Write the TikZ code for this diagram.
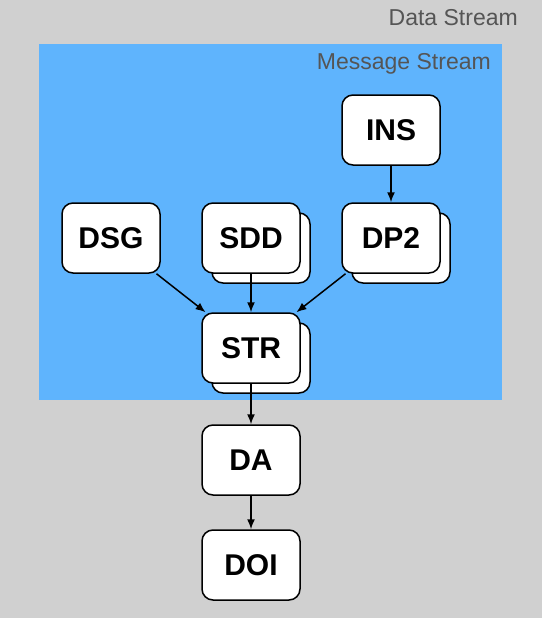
\documentclass[tikz,border=0pt]{standalone}
\usepackage{fontspec}
\setmainfont{Liberation Sans}
\usetikzlibrary{arrows.meta,shadows}
\definecolor{streamgray}{HTML}{D0D0D0}
\definecolor{streamblue}{HTML}{5FB4FD}
\definecolor{labelgray}{HTML}{555555}
\tikzset{
  box/.style={draw, fill=white, rounded corners=11pt, line width=1.5pt,
    minimum width=98pt, minimum height=70pt, inner sep=0pt,
    font=\fontsize{30}{36}\selectfont\bfseries},
  stack/.style={copy shadow={shadow xshift=10pt, shadow yshift=-10pt,
    draw=black, fill=white, line width=1.5pt}},
  link/.style={line width=1.5pt, -{Latex[length=10pt,width=8pt]}},
  streamlabel/.style={anchor=base east, inner sep=0pt, text=labelgray,
    font=\fontsize{23}{28}\selectfont}
}
\begin{document}
\begin{tikzpicture}[x=1pt,y=-1pt]
\useasboundingbox (0,0) rectangle (542,618);
\fill[streamgray] (0,0) rectangle (542,618);
\fill[streamblue] (39,44) rectangle (502,400);

\node[streamlabel] (datastream) at (518,26) {Data Stream};
\node[streamlabel] (msgstream) at (491,70) {Message Stream};

\node[box] (INS) at (391,130) {INS};
\node[box] (DSG) at (111,238) {DSG};
\node[box, stack] (SDD) at (251,238) {SDD};
\node[box, stack] (DP2) at (391,238) {DP2};
\node[box, stack] (STR) at (251,348) {STR};
\node[box] (DA) at (251,460) {DA};
\node[box] (DOI) at (251,565) {DOI};

\draw[link] (INS) -- (DP2);
\draw[link] (DSG) -- (STR);
\draw[link] (SDD) -- (STR);
\draw[link] (DP2) -- (STR);
\draw[link] (STR) -- (DA);
\draw[link] (DA) -- (DOI);
\end{tikzpicture}
\end{document}
